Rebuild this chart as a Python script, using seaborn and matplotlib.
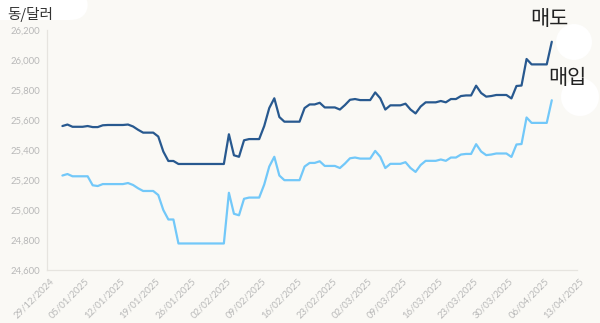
import matplotlib
matplotlib.use("Agg")
import matplotlib.pyplot as plt
import matplotlib.dates as mdates
import matplotlib.transforms as mtransforms
from matplotlib.patches import Ellipse, FancyBboxPatch
from matplotlib.ticker import FuncFormatter
import numpy as np
import pandas as pd
import seaborn as sns

# Daily USD/VND rates, 01/01/2025 - 08/04/2025
start_date = "2025-01-01"
end_date = "2025-04-08"

# Selling rate (매도)
sell = [
    25560, 25570, 25555, 25555, 25555,           # Jan 1-5
    25560, 25553, 25553, 25565, 25567, 25567, 25567,  # Jan 6-12
    25567, 25570, 25557, 25535, 25516, 25516, 25516,  # Jan 13-19
    25490, 25390, 25327, 25327, 25307, 25307, 25307,  # Jan 20-26
    25307, 25307, 25307, 25307, 25307, 25307, 25307,  # Jan 27-Feb 2
    25505, 25365, 25355, 25465, 25473, 25473, 25473,  # Feb 3-9
    25560, 25680, 25745, 25620, 25589, 25589, 25589,  # Feb 10-16
    25589, 25680, 25704, 25704, 25715, 25684, 25684,  # Feb 17-23
    25684, 25670, 25700, 25735, 25740, 25733, 25733,  # Feb 24-Mar 2
    25733, 25784, 25745, 25670, 25698, 25698, 25698,  # Mar 3-9
    25709, 25670, 25644, 25690, 25718, 25718, 25718,  # Mar 10-16
    25727, 25718, 25740, 25740, 25760, 25764, 25764,  # Mar 17-23
    25829, 25780, 25756, 25760, 25767, 25767, 25767,  # Mar 24-30
    25744, 25827, 25830, 26007, 25971, 25971, 25971,  # Mar 31-Apr 6
    25971, 26122,                                     # Apr 7-8
]

# Buying rate (매입)
buy = [
    25230, 25240, 25225, 25225, 25225,
    25225, 25165, 25160, 25173, 25173, 25173, 25173,
    25173, 25180, 25167, 25145, 25127, 25127, 25127,
    25100, 25000, 24937, 24937, 24777, 24777, 24777,
    24777, 24777, 24777, 24777, 24777, 24777, 24777,
    25115, 24975, 24965, 25075, 25083, 25083, 25083,
    25170, 25290, 25355, 25230, 25199, 25199, 25199,
    25199, 25290, 25314, 25314, 25325, 25294, 25294,
    25294, 25280, 25310, 25345, 25350, 25343, 25343,
    25343, 25394, 25355, 25280, 25308, 25308, 25308,
    25319, 25280, 25254, 25300, 25328, 25328, 25328,
    25337, 25328, 25350, 25350, 25370, 25374, 25374,
    25439, 25390, 25366, 25370, 25377, 25377, 25377,
    25354, 25437, 25440, 25617, 25581, 25581, 25581,
    25581, 25732,
]

dates = pd.date_range(start_date, end_date, freq="D")
df = pd.DataFrame({"date": dates, "sell": sell, "buy": buy})

y_ticks = [24600, 24800, 25000, 25200, 25400, 25600, 25800, 26000, 26200]
x_tick_dates = pd.date_range("2024-12-29", "2025-04-13", freq="7D")

unit_label = "동/달러"
sell_label = "매도"
buy_label = "매입"

bg = "#faf9f5"
dark_blue = "#28598f"
light_blue = "#72c8f9"
tick_grey = "#b8b8b8"
spine_grey = "#e6e4df"

sns.set_theme(style="white")
plt.rcParams["font.family"] = ["Lato", "DejaVu Sans"]

fig = plt.figure(figsize=(6.0, 3.23), dpi=100, facecolor=bg)
ax = fig.add_axes([0.0788, 0.164, 0.8829, 0.743])
ax.set_facecolor(bg)

sns.lineplot(data=df, x="date", y="sell", color=dark_blue, linewidth=1.6, ax=ax)
sns.lineplot(data=df, x="date", y="buy", color=light_blue, linewidth=1.6, ax=ax)
for line in ax.get_lines():
    line.set_solid_joinstyle("round")

ax.set_xlim(x_tick_dates[0], x_tick_dates[-1])
ax.set_ylim(y_ticks[0], y_ticks[-1])
ax.set_xticks(x_tick_dates)
ax.xaxis.set_major_formatter(mdates.DateFormatter("%d/%m/%Y"))
ax.set_yticks(y_ticks)
ax.yaxis.set_major_formatter(FuncFormatter(lambda v, p: f"{int(v):,}"))
ax.set_xlabel("")
ax.set_ylabel("")

for side in ("top", "right"):
    ax.spines[side].set_visible(False)
for side in ("left", "bottom"):
    ax.spines[side].set_color(spine_grey)
    ax.spines[side].set_linewidth(0.9)

ax.tick_params(axis="both", colors=spine_grey, labelcolor=tick_grey,
               labelsize=6.8, length=3, width=0.8)
ax.tick_params(axis="y", pad=2)
ax.tick_params(axis="x", pad=4)
shift = mtransforms.ScaledTranslation(4 / 72, 0, fig.dpi_scale_trans)
for lbl in ax.get_xticklabels():
    lbl.set_rotation(45)
    lbl.set_ha("right")
    lbl.set_va("center")
    lbl.set_rotation_mode("anchor")
    lbl.set_transform(lbl.get_transform() + shift)

# white halo shapes behind the annotations
W, H = fig.get_size_inches() * fig.dpi
fig.patches.append(FancyBboxPatch((-20 / W, 1 - 20 / H), 108 / W, 30 / H,
                                  boxstyle="round,pad=0,rounding_size=0.03",
                                  mutation_aspect=W / H,
                                  transform=fig.transFigure, facecolor="white",
                                  edgecolor="none", zorder=0.5))
for cx, cy, r in [(574, 42, 18), (580, 97, 19)]:
    fig.patches.append(Ellipse((cx / W, 1 - cy / H), 2 * r / W, 2 * r / H,
                               transform=fig.transFigure, facecolor="white",
                               edgecolor="none", zorder=0.5))

cjk = ["Noto Sans CJK KR", "DejaVu Sans"]
fig.text(7 / W, 1 - 15 / H, unit_label, family=cjk, fontsize=10.5,
         color="#333333", ha="left", va="center", zorder=3)
fig.text(549 / W, 1 - 19 / H, sell_label, family=cjk, fontsize=15,
         color="#222222", ha="center", va="center", zorder=3)
fig.text(567 / W, 1 - 78 / H, buy_label, family=cjk, fontsize=15,
         color="#222222", ha="center", va="center", zorder=3)

fig.savefig("out.png", dpi=100, facecolor=bg)
